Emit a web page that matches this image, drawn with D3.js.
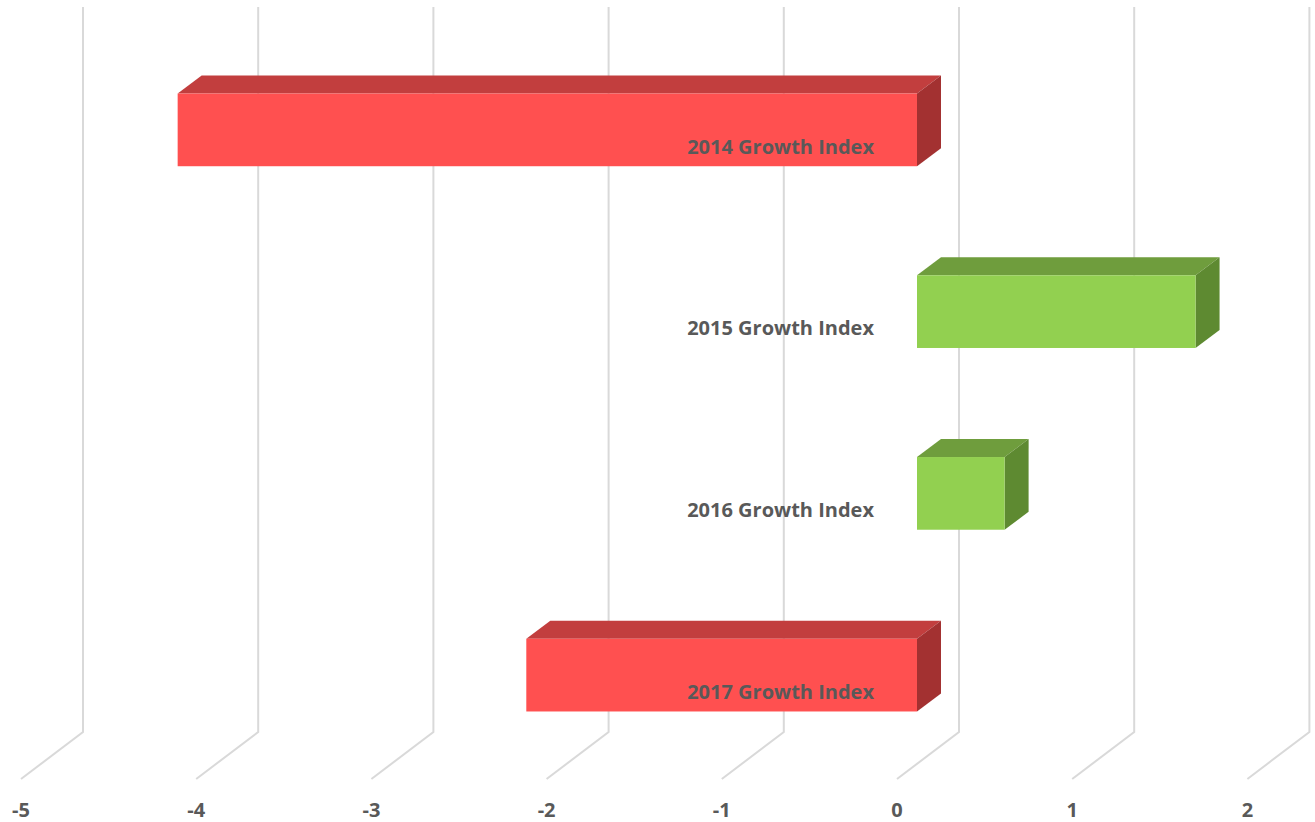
<!DOCTYPE html>
<html>
<head>
<meta charset="utf-8">
<script src="https://cdn.jsdelivr.net/npm/d3@7"></script>
<style>
  body { margin: 0; background: #fff; }
  svg { display: block; }
</style>
</head>
<body>
<svg width="1315" height="822"></svg>
<script>
// ---- data ----
const categories = ["2014 Growth Index", "2015 Growth Index", "2016 Growth Index", "2017 Growth Index"];
const values = [-4.22, 1.59, 0.5, -2.23];
const ticks = [-5, -4, -3, -2, -1, 0, 1, 2];

// ---- layout ----
const width = 1315, height = 822;
const floorY = 779;          // front edge of the floor
const wall = {dx: 62, dy: 47}; // offset of the back wall
const barFront = {dx: 20, dy: 15};
const barDepth = {dx: 24, dy: 18};
const gridTop = 7;

const svg = d3.select("svg");

const x = d3.scaleLinear().domain([-5, 2]).range([21, 1247.4]);
const y = d3.scaleBand().domain(categories).range([39, 766])
    .paddingInner(0.6).paddingOuter(0.3);

const colors = {
  neg: {front: "#ff5050", top: "#c23e3e", side: "#a33131"},
  pos: {front: "#92d050", top: "#6f9d3d", side: "#5e8a31"}
};

// ---- gridlines (floor + back wall) ----
svg.append("g").selectAll("polyline")
  .data(ticks)
  .join("polyline")
  .attr("points", d => [
      [x(d), floorY],
      [x(d) + wall.dx, floorY - wall.dy],
      [x(d) + wall.dx, gridTop]
    ].map(p => p.join(",")).join(" "))
  .attr("fill", "none")
  .attr("stroke", "#d9d9d9")
  .attr("stroke-width", 2);

// ---- 3d bars ----
const bars = svg.append("g").selectAll("g")
  .data(categories.map((c, i) => ({cat: c, v: values[i]})))
  .join("g");

function fx(v) { return x(v) + barFront.dx; }

bars.each(function(d) {
  const g = d3.select(this);
  const c = d.v < 0 ? colors.neg : colors.pos;
  const x0 = fx(Math.min(0, d.v)), x1 = fx(Math.max(0, d.v));
  const y0 = y(d.cat), y1 = y0 + y.bandwidth();
  const ddx = barDepth.dx, ddy = barDepth.dy;
  // top face
  g.append("polygon")
    .attr("points", [[x0, y0], [x1, y0], [x1 + ddx, y0 - ddy], [x0 + ddx, y0 - ddy]].map(p => p.join(",")).join(" "))
    .attr("fill", c.top);
  // side face
  g.append("polygon")
    .attr("points", [[x1, y0], [x1 + ddx, y0 - ddy], [x1 + ddx, y1 - ddy], [x1, y1]].map(p => p.join(",")).join(" "))
    .attr("fill", c.side);
  // front face
  g.append("rect")
    .attr("x", x0).attr("y", y0)
    .attr("width", x1 - x0).attr("height", y1 - y0)
    .attr("fill", c.front);
});

// ---- category labels ----
svg.append("g").selectAll("text")
  .data(categories)
  .join("text")
  .attr("x", x(0) - 23)
  .attr("y", d => y(d) + 60)
  .attr("text-anchor", "end")
  .attr("font-family", "'Open Sans', sans-serif")
  .attr("font-weight", "bold")
  .attr("font-size", 20)
  .attr("fill", "#595959")
  .text(d => d);

// ---- value axis labels ----
svg.append("g").selectAll("text")
  .data(ticks)
  .join("text")
  .attr("x", d => x(d))
  .attr("y", 817)
  .attr("text-anchor", "middle")
  .attr("font-family", "'Open Sans', sans-serif")
  .attr("font-weight", "bold")
  .attr("font-size", 20)
  .attr("fill", "#595959")
  .text(d => d);
</script>
</body>
</html>
